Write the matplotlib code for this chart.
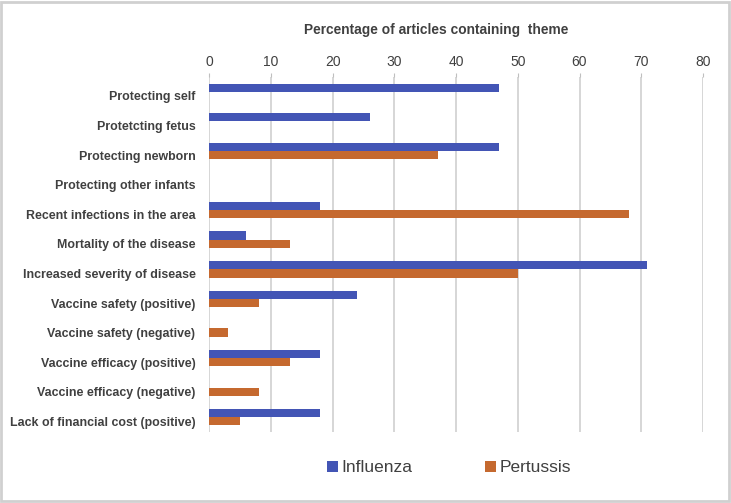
import numpy as np
import matplotlib.pyplot as plt
import matplotlib.transforms as mtransforms
from matplotlib.patches import Rectangle

themes = [
    "Protecting self",
    "Protetcting fetus",
    "Protecting newborn",
    "Protecting other infants",
    "Recent infections in the area",
    "Mortality of the disease",
    "Increased severity of disease",
    "Vaccine safety (positive)",
    "Vaccine safety (negative)",
    "Vaccine efficacy (positive)",
    "Vaccine efficacy (negative)",
    "Lack of financial cost (positive)",
]
influenza = [47, 26, 47, 0, 18, 6, 71, 24, 0, 18, 0, 18]
pertussis = [0, 0, 37, 0, 68, 13, 50, 8, 3, 13, 8, 5]
xticks = [0, 10, 20, 30, 40, 50, 60, 70, 80]

plt.rcParams['font.family'] = ['Liberation Sans', 'DejaVu Sans']

fig = plt.figure(figsize=(7.31, 5.03), dpi=100)
ax = fig.add_axes([209.3 / 731, 1 - 432 / 503, 493.6 / 731, 355 / 503])

y = np.arange(len(themes))
h = 0.28
ax.barh(y - h / 2, influenza, height=h, color='#4355B5', label='Influenza', zorder=3)
ax.barh(y + h / 2, pertussis, height=h, color='#C5692F', label='Pertussis', zorder=3)

ax.set_ylim(len(themes) - 0.5, -0.5)
ax.set_xlim(0, 80)
ax.set_xticks(xticks)
ax.xaxis.tick_top()
ax.xaxis.set_label_position('top')
ax.tick_params(axis='x', length=3, color='#bfbfbf', labelsize=10, labelcolor='#404040', pad=3)
ax.set_yticks(y)
ax.set_yticklabels(themes, fontsize=8.9, fontweight='bold', color='#404040')
ax.tick_params(axis='y', length=0, pad=10)
# excel puts the category labels a touch below the bar pair centre
shift = mtransforms.ScaledTranslation(0, -3 / 72, fig.dpi_scale_trans)
for lab in ax.get_yticklabels():
    lab.set_transform(lab.get_transform() + shift)
ax.grid(axis='x', color='#d0d0d0', linewidth=1.2, zorder=0)
for s in ax.spines.values():
    s.set_visible(False)
ax.set_xlabel('Percentage of articles containing  theme', fontsize=9.9, fontweight='bold',
              color='#404040')
ax.xaxis.set_label_coords((436 - 209.3) / 493.6, 1 + 47 / 355)
ax.xaxis.label.set_va('center')

fig.legend(loc='center', bbox_to_anchor=(449 / 731, 1 - 468 / 503), ncol=2, frameon=False,
           fontsize=12.5, handlelength=0.65, handleheight=0.65, columnspacing=4.2,
           handletextpad=0.2, labelcolor='#404040')

fig.patches.append(Rectangle((0.002, 0.003), 0.995, 0.994, transform=fig.transFigure,
                             fill=False, edgecolor='#d0d0d0', linewidth=2))

fig.savefig('out.png', dpi=100)
